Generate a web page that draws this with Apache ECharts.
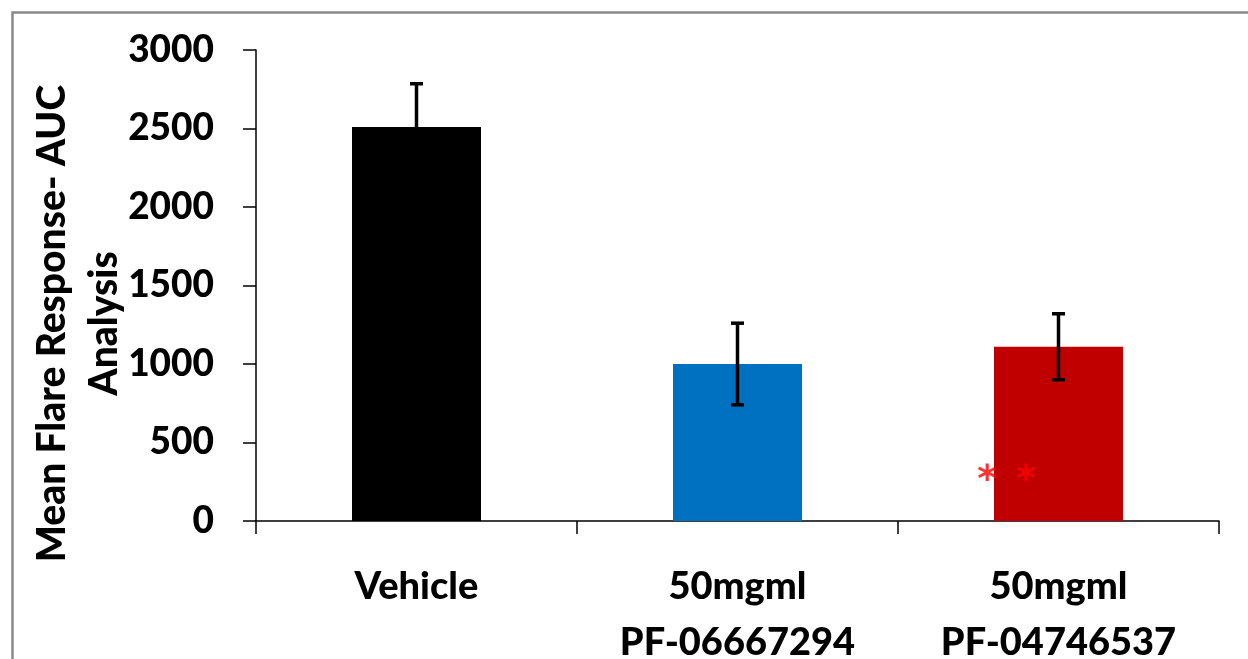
<!DOCTYPE html>
<html>
<head>
<meta charset="utf-8">
<script src="https://cdn.jsdelivr.net/npm/echarts@6/dist/echarts.min.js"></script>
<style>
html,body{margin:0;padding:0;background:#fff;}
#chart{width:1248px;height:659px;}
</style>
</head>
<body>
<div id="chart"></div>
<script>
const categories = ['Vehicle', '50mgml\nPF-06667294', '50mgml\nPF-04746537'];
const means = [2510, 1000, 1110];
const errors = [275, 260, 210];
const barColors = ['#000000', '#0070C0', '#C00000'];
const yTicks = [0, 500, 1000, 1500, 2000, 2500, 3000];
const sigIndex = 2;
const sigValue = 300;
const sigText = '*\u2002*';
const yTitle = 'Mean Flare Response- AUC\nAnalysis';

const FONT = 'Lato';
const chart = echarts.init(document.getElementById('chart'), null, {renderer: 'canvas'});

const errData = categories.map((c, i) => [i, means[i] - errors[i], means[i] + errors[i]]);

const option = {
  backgroundColor: '#fff',
  animation: false,
  graphic: [{
    type: 'rect', left: 10, top: 10, z: 100,
    shape: {width: 1400, height: 800},
    style: {fill: 'none', stroke: '#898989', lineWidth: 2.5}
  }],
  grid: {left: 256, right: 29, top: 50, bottom: 138, containLabel: false, outerBoundsMode: 'none'},
  xAxis: {
    type: 'category',
    data: categories,
    axisLine: {lineStyle: {color: '#000', width: 1.5}},
    axisTick: {show: true, length: 13, inside: false, alignWithLabel: false, lineStyle: {color: '#000', width: 1.5}},
    axisLabel: {color: '#000', fontFamily: FONT, fontWeight: 900, fontSize: 38, lineHeight: 56, margin: 38, interval: 0}
  },
  yAxis: {
    type: 'value',
    min: 0, max: 3000, interval: 500,
    name: yTitle,
    nameLocation: 'middle',
    nameGap: 126,
    nameMoveOverlap: false,
    nameRotate: 90,
    nameTextStyle: {color: '#000', fontFamily: FONT, fontWeight: 900, fontSize: 39, lineHeight: 52, align: 'center', padding: [0, 0, 0, -76]},
    axisLine: {show: true, lineStyle: {color: '#000', width: 1.5}},
    axisTick: {show: true, length: 13, lineStyle: {color: '#000', width: 1.5}},
    splitLine: {show: false},
    axisLabel: {color: '#000', fontFamily: FONT, fontWeight: 900, fontSize: 37, margin: 42,
      formatter: v => yTicks.indexOf(v) >= 0 ? String(v) : ''}
  },
  series: [
    {
      type: 'bar',
      barWidth: 129,
      data: means.map((v, i) => ({value: v, itemStyle: {color: barColors[i]}})),
      z: 2
    },
    {
      type: 'custom',
      z: 3,
      data: errData,
      renderItem: function (params, api) {
        const x = api.coord([api.value(0), api.value(1)])[0];
        const lo = api.coord([api.value(0), api.value(1)])[1];
        const hi = api.coord([api.value(0), api.value(2)])[1];
        const hw = 6.5;
        const st = {stroke: '#000', lineWidth: 3.5};
        return {
          type: 'group',
          children: [
            {type: 'line', shape: {x1: x, y1: lo, x2: x, y2: hi}, style: st},
            {type: 'line', shape: {x1: x - hw, y1: hi, x2: x + hw, y2: hi}, style: st},
            {type: 'line', shape: {x1: x - hw, y1: lo, x2: x + hw, y2: lo}, style: st}
          ]
        };
      }
    },
    {
      type: 'scatter',
      symbolSize: 0,
      z: 5,
      data: [[sigIndex, sigValue]],
      label: {
        show: true, position: 'inside', offset: [-52, 7],
        formatter: sigText,
        color: '#FF0000', fontFamily: 'DejaVu Sans', fontWeight: 'bold', fontSize: 38
      }
    }
  ]
};
chart.setOption(option);
</script>
</body>
</html>
